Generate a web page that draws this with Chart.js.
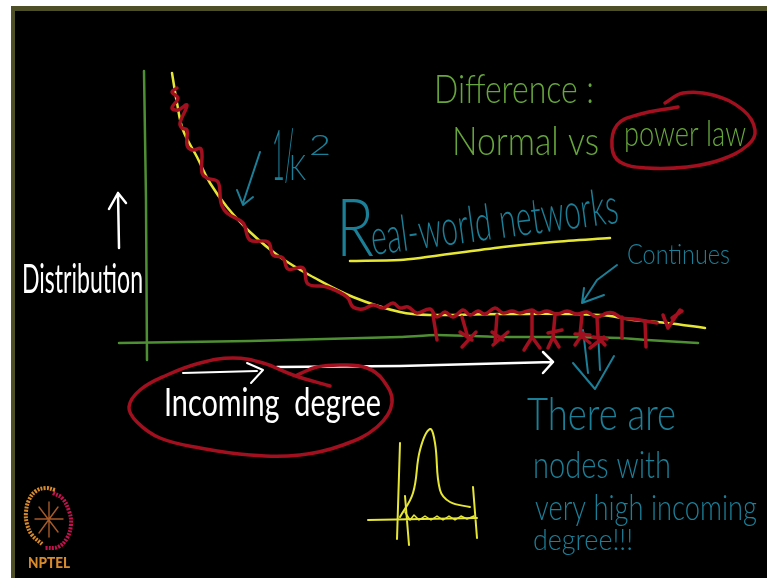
<!DOCTYPE html>
<html>
<head>
<meta charset="utf-8">
<title>Normal vs power law</title>
<script src="https://cdn.jsdelivr.net/npm/chart.js@4/dist/chart.umd.min.js"></script>
<style>
  html, body { margin: 0; background: #fff; overflow: hidden; }
  #board { position: absolute; left: 11px; top: 6px; width: 756px; height: 572px; box-sizing: border-box;
           background: #000; border-left: 4px solid #4e4f26; border-top: 5px solid #4e4f26; }
  #plot { position: absolute; left: 0; top: 0; }
</style>
</head>
<body>
<div id="board"></div>
<canvas id="plot" width="767" height="578"></canvas>
<script>
const GREEN = '#4f8f33', GREEN_TEXT = '#66a63c', BLUE = '#1c7f98', YELLOW = '#e6e635', RED = '#a20f1e', WHITE = '#ffffff', ORANGE = '#d98a2b';

const powerLaw = [[172,73],[177,103],[183,130],[197,157],[210,183],[227,207],[250,232],[280,257],[313,277],[353,297],
  [400,312],[433,315],[500,314],[600,315],[633,320],[667,323],[705,328]];
const realWorld = [[177,88],[172,92],[178,98],[172,108],[178,110],[187,105],[180,123],[182,128],[187,130],[187,145],
  [192,150],[201,149],[202,173],[207,178],[218,182],[221,203],[227,213],[243,223],[250,240],[268,242],[273,255],
  [283,258],[288,269],[303,268],[308,284],[327,287],[347,297],[353,307],[363,309],[373,305],[383,308],[393,303],
  [400,308],[408,307],[417,313],[430,309],[437,317],[445,312],[453,317],[463,310],[470,315],[478,311],[485,314],
  [495,308],[503,313],[512,311],[520,313],[532,310],[538,313],[547,311],[557,314],[567,311],[577,314],[587,312],
  [597,317],[607,313],[613,313],[622,318],[633,319],[657,323]];
const tailMarks = [[433,315],[437,340],null,[462,317],[468,338],null,[462,347],[476,332],null,[460,332],[472,340],null,
  [497,315],[495,343],null,[493,345],[508,332],null,[492,332],[503,340],null,
  [532,313],[532,337],null,[524,350],[532,337],[540,348],null,
  [555,315],[553,337],null,[548,333],[562,330],null,[548,348],[553,337],[559,347],null,
  [582,315],[580,335],null,[575,345],[583,333],null,[575,334],[590,335],null,[580,335],[590,343],null,
  [597,317],[598,337],null,[590,348],[604,337],null,[593,337],[607,339],null,[598,337],[605,345],null,
  [622,317],[622,338],null,[645,322],[646,347],null,
  [663,315],[668,328],[680,310],null,[672,318],[682,311]];
const yAxisLine = [[144,71],[146,200],[147,360]];
const xAxisLine = [[119,343],[250,341],[400,337],[437,335],[500,337],[567,337],[620,338],[647,340],[698,343]];
const longArrow = [[277,367],[400,366],[553,362],null,[543,352],[553,362],[543,373]];
const shortArrow = [[183,373],[257,371],null,[247,363],[263,370],[251,383]];
const upArrow = [[119,248],[118,193],null,[109,209],[118,193],[126,203]];
const degreeLoop = [[330,386],[293,375],[263,363],[233,358],[200,363],[167,375],[140,390],[129,407],[137,422],[160,438],
  [200,448],[250,455],[300,455],[343,445],[377,427],[392,403],[383,380],[367,368],[343,365],[317,367],[297,375]];
const powerLoop = [[678,107],[637,115],[617,125],[612,147],[620,162],[647,168],[687,167],[720,160],[748,145],[755,130],
  [743,110],[713,95],[683,93],[665,103]];
const underline = [[350,261],[400,260],[420,258],[503,247],[553,242],[610,238]];
const blueArrows = [[260,152],[243,203],null,[237,190],[243,205],[253,197],null,
  [617,265],[597,280],[582,303],null,[584,288],[582,303],[604,295],null,
  [583,330],[588,373],null,[598,332],[600,370],null,[573,363],[595,389],[614,356]];
const bellAxes = [[400,443],[397,539],null,[405,496],[409,545],null,[473,487],[477,538],null,[368,520],[477,518]];
const bellCurve = [[400,517],[413,493],[420,450],[430,429],[435,443],[440,490],[450,502],[470,507]];
const bellNoise = [[405,512],[410,520],[414,515],[419,520],[425,516],[431,520],[437,516],[443,520],[449,516],[455,520],[461,516],[467,519],[474,516]];
const logoOrange = [[55,490],[46,488],[36,491],[29,500],[26,512],[27,524],[32,535],[42,544]];
const logoCrimson = [[53,493],[62,498],[69,511],[71,524],[67,538],[58,547],[45,548]];
const logoPetals = [[49,502],[49,537],null,[35,519],[63,519],null,[39,507],[58,532],null,[58,507],[39,533]];

const labelTexts = ['Difference :', 'Normal vs', 'power law', 'R', 'eal-world networks', '1/', 'K', '2', 'Continues', 'Distribution',
  'Incoming  degree', 'There are', 'nodes with', 'very high incoming', 'degree!!!', 'NPTEL'];
// [left, baseline, width, font px, tilt degrees, colour, weight]
const labelPlaces = [
  [434,103,160,40,0,GREEN_TEXT,300],[452,155,147,40,0,GREEN_TEXT,300],[624,146,122,36,0,GREEN_TEXT,300],
  [336,256,38,80,0,BLUE,300],[373,255,249,50,-7.5,BLUE,300],[272,180,22,70,0,BLUE,300],[289,180,17,36,0,BLUE,300],[309,155,22,28,0,BLUE,300],
  [627,264,103,27,0,BLUE,300],[22,293,121,40,0,WHITE,400],[164,416,217,38,0,WHITE,400],[527,430,149,46,0,BLUE,300],[533,478,138,38,0,BLUE,300],
  [535,520,222,36,0,BLUE,300],[533,550,100,30,0,BLUE,300],[28,568,42,15.5,0,ORANGE,900]];

const line = (data, color, width, tension, dash) => ({
  data: data.map(p => p ? { x: p[0], y: p[1] } : { x: null, y: null }),
  showLine: true, borderColor: color, borderWidth: width, tension: tension || 0,
  borderDash: dash || [], pointRadius: 0, spanGaps: false, borderCapStyle: dash ? 'butt' : 'round', borderJoinStyle: 'round', fill: false
});

const handLabels = {
  id: 'handLabels',
  beforeDatasetsDraw(chart) {
    const ctx = chart.ctx, sx = chart.scales.x, sy = chart.scales.y;
    labelTexts.forEach((text, i) => {
      const [x, y, w, size, tilt, color, weight] = labelPlaces[i];
      ctx.save();
      ctx.font = weight + ' ' + size + 'px Lato, "Open Sans", sans-serif';
      ctx.fillStyle = color;
      ctx.translate(sx.getPixelForValue(x), sy.getPixelForValue(y));
      ctx.rotate(tilt * Math.PI / 180);
      ctx.scale(w / ctx.measureText(text).width, 1);
      ctx.fillText(text, 0, 0);
      ctx.restore();
    });
  }
};

new Chart(document.getElementById('plot'), {
  type: 'scatter',
  data: {
    // first dataset is painted last, so the red pen stays on top
    datasets: [
      line(realWorld, RED, 3.5, 0.4), line(tailMarks, RED, 3.5), line(degreeLoop, RED, 3.5, 0.4), line(powerLoop, RED, 3.5, 0.4),
      line(blueArrows, BLUE, 2), line(longArrow, WHITE, 2.5), line(shortArrow, WHITE, 2), line(upArrow, WHITE, 2.5),
      line(powerLaw, YELLOW, 2.5, 0.4), line(underline, YELLOW, 2.5, 0.3),
      line(bellAxes, YELLOW, 2), line(bellCurve, YELLOW, 2, 0.4), line(bellNoise, YELLOW, 1.5),
      line(yAxisLine, GREEN, 2.5), line(xAxisLine, GREEN, 2.5, 0.2),
      line(logoOrange, ORANGE, 4, 0.4, [2, 1.2]), line(logoCrimson, '#c2124f', 4, 0.4, [2, 1.2]), line(logoPetals, '#a85a28', 1.4)
    ]
  },
  options: {
    responsive: false,
    animation: false,
    layout: { padding: 0 },
    plugins: { legend: { display: false }, tooltip: { enabled: false }, title: { display: false } },
    scales: {
      x: { type: 'linear', display: false, min: 0, max: 767 },
      y: { type: 'linear', display: false, min: 0, max: 578, reverse: true }
    }
  },
  plugins: [handLabels]
});
</script>
</body>
</html>
